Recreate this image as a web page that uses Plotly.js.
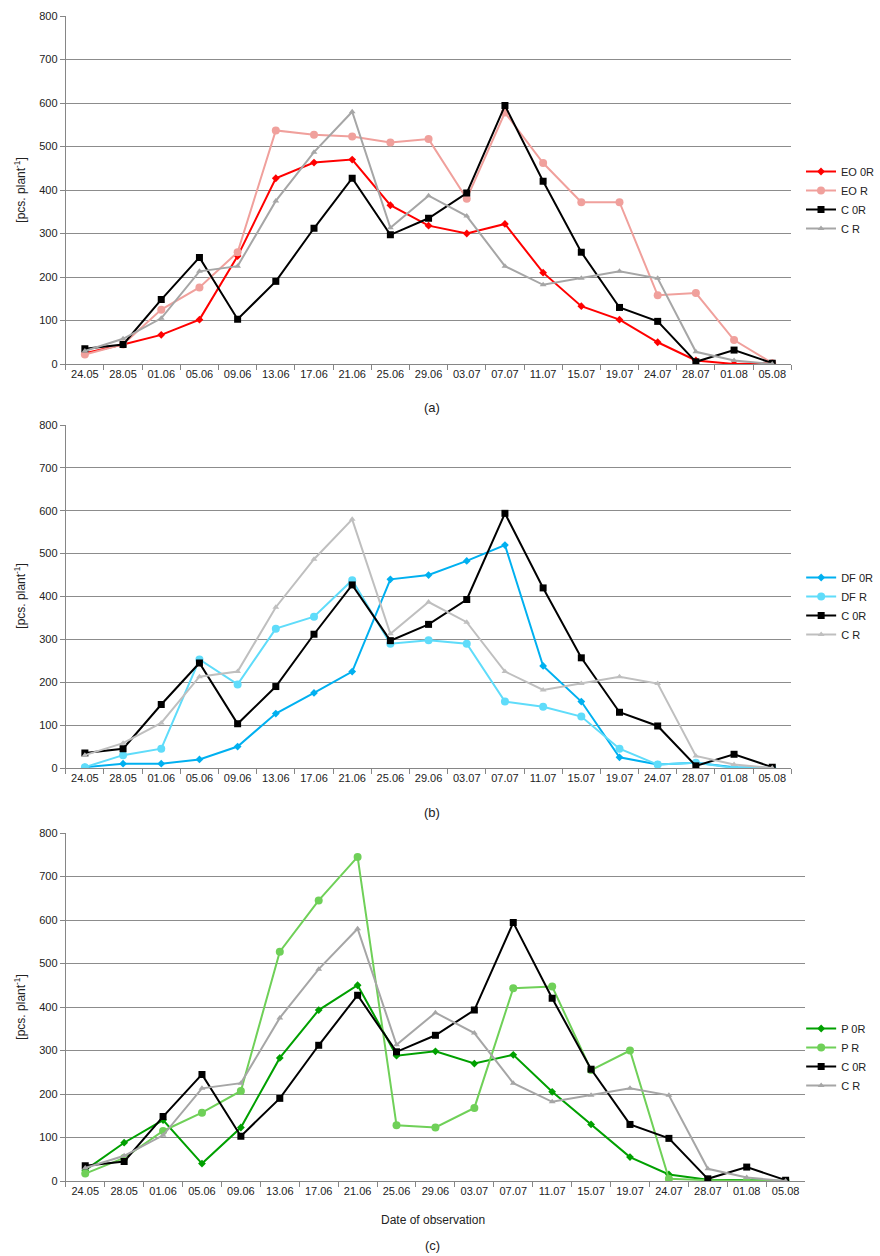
<!DOCTYPE html>
<html><head><meta charset="utf-8">
<script src="https://cdn.plot.ly/plotly-3.0.1.min.js"></script>
<style>body{margin:0;padding:0;background:#fff}#chart{width:880px;height:1256px}</style>
</head><body><div id="chart"></div>
<script>
const dates = ["24.05","28.05","01.06","05.06","09.06","13.06","17.06","21.06","25.06","29.06","03.07","07.07","11.07","15.07","19.07","24.07","28.07","01.08","05.08"];

const EO_0R = [25,45,67,102,248,427,463,470,365,318,300,322,210,133,102,50,8,0,2];
const EO_R  = [22,45,125,176,257,537,527,523,509,517,380,578,462,372,372,158,163,55,2];
const DF_0R = [2,10,10,20,50,127,175,225,440,450,483,520,238,155,25,8,12,2,0];
const DF_R  = [2,30,45,253,195,325,353,438,290,298,290,155,143,120,45,8,12,0,0];
const P_0R  = [25,88,140,40,123,283,393,450,288,298,270,290,205,130,55,15,3,2,0];
const P_R   = [17,53,115,157,207,527,645,745,128,123,168,443,447,255,300,5,2,0,0];
const C_0R  = [35,45,148,245,103,190,312,427,297,335,393,594,420,257,130,98,5,32,2];
const C_R   = [30,58,105,213,225,375,487,580,313,387,340,225,182,197,213,197,28,8,0];

const font = {family: "Liberation Sans, Arial, sans-serif", size: 11, color: "#222"};

function tr(name, y, color, symbol, size, xa, ya, leg){
  return {x: dates, y: y, name: name, type: "scatter", mode: "lines+markers",
    line: {color: color, width: 2}, marker: {color: color, symbol: symbol, size: size},
    xaxis: xa, yaxis: ya, legend: leg};
}
const gA = "#a6a6a6", gB = "#bfbfbf";
const data = [
  tr("EO 0R", EO_0R, "#ff0000", "diamond", 6, "x", "y", "legend"),
  tr("EO R", EO_R, "#f0a09c", "circle", 8, "x", "y", "legend"),
  tr("C 0R", C_0R, "#000000", "square", 7, "x", "y", "legend"),
  tr("C R", C_R, gA, "triangle-up", 6, "x", "y", "legend"),
  tr("DF 0R", DF_0R, "#00b0f0", "diamond", 6, "x2", "y2", "legend2"),
  tr("DF R", DF_R, "#5fdcfa", "circle", 8, "x2", "y2", "legend2"),
  tr("C 0R", C_0R, "#000000", "square", 7, "x2", "y2", "legend2"),
  tr("C R", C_R, gB, "triangle-up", 6, "x2", "y2", "legend2"),
  tr("P 0R", P_0R, "#00a000", "diamond", 6, "x3", "y3", "legend3"),
  tr("P R", P_R, "#6fd058", "circle", 8, "x3", "y3", "legend3"),
  tr("C 0R", C_0R, "#000000", "square", 7, "x3", "y3", "legend3"),
  tr("C R", C_R, gA, "triangle-up", 6, "x3", "y3", "legend3")
];

const H = 1256, W = 880;
function xax(x0, x1){
  return {domain: [x0/W, x1/W], type: "category", range: [-0.5, 18.5], tickson: "boundaries",
    ticks: "outside", ticklen: 5, tickcolor: "#868686", showgrid: false, showline: true,
    linecolor: "#868686", linewidth: 1, tickfont: font, fixedrange: true, tickangle: 0};
}
function yax(top, bot, anchor){
  return {domain: [1-bot/H, 1-top/H], range: [0, 800], dtick: 100, ticks: "outside", ticklen: 5,
    tickcolor: "#868686", showgrid: true, gridcolor: "#8c8c8c", gridwidth: 1, showline: true,
    linecolor: "#868686", linewidth: 1, tickfont: font, zeroline: false, anchor: anchor};
}
function leg(yc){
  return {x: 816/W, y: 1 - yc/H, xanchor: "left", yanchor: "middle", font: {family: font.family, size: 11, color: "#222"},
    bgcolor: "rgba(0,0,0,0)", itemwidth: 30, tracegroupgap: 0};
}
function ann(text, xp, yp, size, angle){
  return {text: text, x: xp/W, y: 1-yp/H, xref: "paper", yref: "paper", xanchor: "center", yanchor: "middle",
    textangle: angle || 0, showarrow: false, font: {family: font.family, size: size, color: "#222"}};
}
const layout = {
  width: W, height: H, margin: {l: 0, r: 0, t: 0, b: 0},
  paper_bgcolor: "#fff", plot_bgcolor: "#fff", font: font, showlegend: true,
  xaxis: Object.assign(xax(67, 806), {anchor: "y"}),
  yaxis: yax(16, 364, "x"),
  xaxis2: Object.assign(xax(67, 806), {anchor: "y2"}),
  yaxis2: yax(425, 768, "x2"),
  xaxis3: Object.assign(xax(67, 820), {anchor: "y3"}),
  yaxis3: yax(833, 1181, "x3"),
  legend: leg(200), legend2: leg(606), legend3: leg(1057),
  annotations: [
    ann("(a)", 440, 407, 13),
    ann("(b)", 440, 812, 13),
    ann("(c)", 440, 1245, 13),
    ann("Date of observation", 441, 1220, 12),
    ann("[pcs. plant<sup>-1</sup>]", 20, 190, 12, -90),
    ann("[pcs. plant<sup>-1</sup>]", 20, 596, 12, -90),
    ann("[pcs. plant<sup>-1</sup>]", 20, 1007, 12, -90)
  ]
};
Plotly.newPlot("chart", data, layout, {displayModeBar: false, staticPlot: true});
</script></body></html>
